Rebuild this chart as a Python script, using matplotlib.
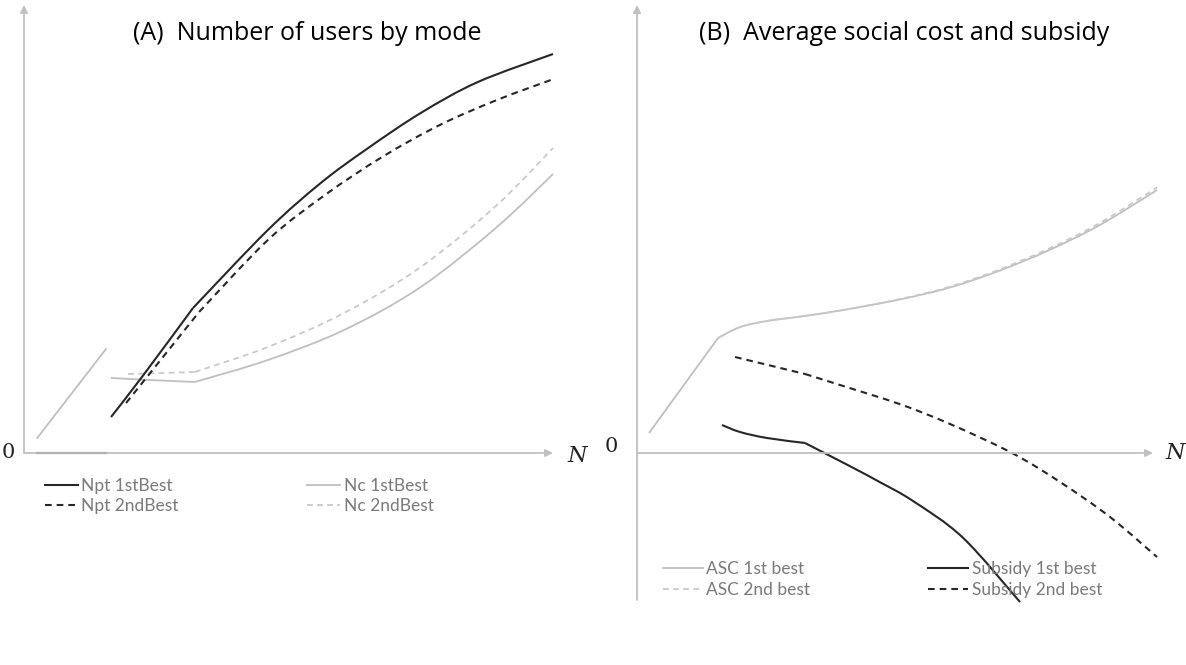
import numpy as np
import matplotlib.pyplot as plt
from matplotlib.path import Path
from matplotlib.patches import PathPatch
from matplotlib.lines import Line2D

# -----------------------------
# DADOS
# -----------------------------

# (A) numero de usuarios por modo
npt1_zero_x = [0.25, 1.55]
npt1_zero_y = [0.0, 0.0]
nc1_lin_x = [0.25, 1.55]
nc1_lin_y = [0.375, 2.6]

npt1_x = [1.645, 2.23, 3.195, 4.61, 5.61, 6.48, 7.50, 8.58, 10.0]
npt1_y = [0.9, 1.9, 3.625, 5.575, 6.75, 7.6, 8.5, 9.275, 9.975]

npt2_x = [1.93, 3.31, 4.61, 5.69, 6.77, 7.86, 8.94, 9.96]
npt2_y = [1.25, 3.525, 5.325, 6.45, 7.4, 8.2, 8.825, 9.325]

nc1_x = [1.645, 2.38, 3.23, 4.61, 6.05, 7.5, 8.94, 10.0]
nc1_y = [1.875, 1.825, 1.775, 2.325, 3.075, 4.15, 5.65, 6.975]

nc2_x = [1.97, 3.23, 4.61, 6.05, 7.5, 8.94, 10.0]
nc2_y = [1.975, 2.025, 2.65, 3.5, 4.65, 6.2, 7.625]

# (B) custo social medio e subsidio
asc1_x = [0.233, 1.57, 2.0, 2.52, 3.16, 3.93, 5.10, 6.07, 7.03, 8.0, 8.97, 10.08]
asc1_y = [0.5, 2.875, 3.15, 3.3, 3.41, 3.56, 3.84, 4.14, 4.56, 5.08, 5.7, 6.575]

asc2_x = [1.57, 2.0, 2.52, 3.16, 3.93, 5.10, 6.07, 7.03, 8.0, 8.97, 10.08]
asc2_y = [2.875, 3.15, 3.3, 3.41, 3.56, 3.85, 4.16, 4.59, 5.12, 5.75, 6.64]

sub1_x = [1.647, 1.996, 2.519, 3.256, 4.128, 4.709, 5.349, 6.318, 7.422]
sub1_y = [0.7, 0.525, 0.375, 0.25, -0.33, -0.73, -1.2, -2.12, -3.725]

sub2_x = [1.90, 3.256, 3.934, 5.097, 6.066, 7.267, 8.198, 9.167, 10.078]
sub2_y = [2.4, 1.975, 1.7, 1.22, 0.725, 0.0, -0.725, -1.6, -2.6]

# -----------------------------
# ESTILO
# -----------------------------

W, H = 1186, 665
PRETO = "#262626"
CINZA = "#bfbfbf"
CINZA_TRAC = "#c9c9c9"
EIXO = "#c0c0c0"
TXT_LEG = "#7a7a7a"
tracos = (0, (3.2, 2.4))


def caixa(x0, y0, x1, y1):
    # pixels -> fracao da figura
    return [x0 / W, 1 - y1 / H, (x1 - x0) / W, (y1 - y0) / H]


def eixos(ax, ymin, ymax):
    ax.set_xlim(0, 10)
    ax.set_ylim(ymin, ymax)
    ax.axis("off")
    seta = dict(arrowstyle="-|>", color=EIXO, lw=1.3, mutation_scale=11,
                shrinkA=0, shrinkB=0)
    ax.annotate("", xy=(10, 0), xytext=(0, 0), arrowprops=seta,
                annotation_clip=False)
    ax.annotate("", xy=(0, ymax), xytext=(0, ymin), arrowprops=seta,
                annotation_clip=False)


def suave(ax, xs, ys, quebra=None, **kw):
    # linha suavizada (estilo Excel) com quebra opcional num ponto
    pts = np.column_stack([xs, ys])
    partes = [pts] if quebra is None else [pts[:quebra + 1], pts[quebra:]]
    for p in partes:
        if len(p) < 3:
            verts, codes = list(p), [Path.MOVETO, Path.LINETO]
        else:
            q = np.vstack([p[0], p, p[-1]])
            verts, codes = [p[0]], [Path.MOVETO]
            for i in range(1, len(q) - 2):
                c1 = q[i] + (q[i + 1] - q[i - 1]) / 6
                c2 = q[i + 1] - (q[i + 2] - q[i]) / 6
                verts += [c1, c2, q[i + 1]]
                codes += [Path.CURVE4] * 3
        ax.add_patch(PathPatch(Path(verts, codes), fill=False, clip_on=False,
                               capstyle="butt", **kw))


def handle(cor, lw, ls, rotulo):
    return Line2D([], [], color=cor, lw=lw, ls=ls, label=rotulo)


fig = plt.figure(figsize=(W / 100, H / 100), dpi=100)

# -----------------------------
# (A)
# -----------------------------
axA = fig.add_axes(caixa(24, 5, 553, 453))
eixos(axA, 0, 11.2)

axA.plot(npt1_zero_x, npt1_zero_y, color=PRETO, lw=1.5, clip_on=False)
axA.plot(nc1_lin_x, nc1_lin_y, color=CINZA, lw=1.3, clip_on=False)
suave(axA, nc1_x, nc1_y, 2, color=CINZA, lw=1.3)
suave(axA, nc2_x, nc2_y, 1, color=CINZA_TRAC, lw=1.3, ls=tracos)
suave(axA, npt1_x, npt1_y, 2, color=PRETO, lw=1.5)
suave(axA, npt2_x, npt2_y, 1, color=PRETO, lw=1.5, ls=tracos)

legA = fig.legend(handles=[handle(PRETO, 1.5, "-", "Npt 1stBest"),
                           handle(PRETO, 1.5, tracos, "Npt 2ndBest"),
                           handle(CINZA, 1.3, "-", "Nc 1stBest"),
                           handle(CINZA_TRAC, 1.3, tracos, "Nc 2ndBest")],
                  ncol=2, loc="upper left",
                  bbox_to_anchor=(45 / W, 1 - 478 / H), frameon=False,
                  prop={"family": "Lato", "size": 12.5}, labelcolor=TXT_LEG,
                  handlelength=1.9, handletextpad=0.2, columnspacing=7.4,
                  labelspacing=0.22, borderaxespad=0, borderpad=0)

# -----------------------------
# (B)
# -----------------------------
axB = fig.add_axes(caixa(637, 5, 1153, 600))
eixos(axB, -3.675, 11.2)

suave(axB, asc1_x, asc1_y, 1, color=CINZA, lw=1.3)
suave(axB, asc2_x, asc2_y, None, color=CINZA_TRAC, lw=1.3, ls=tracos)
suave(axB, sub1_x, sub1_y, 3, color=PRETO, lw=1.5)
suave(axB, sub2_x, sub2_y, 1, color=PRETO, lw=1.5, ls=tracos)

legB = fig.legend(handles=[handle(CINZA, 1.3, "-", "ASC 1st best"),
                           handle(CINZA_TRAC, 1.3, tracos, "ASC 2nd best"),
                           handle(PRETO, 1.5, "-", "Subsidy 1st best"),
                           handle(PRETO, 1.5, tracos, "Subsidy 2nd best")],
                  ncol=2, loc="upper left",
                  bbox_to_anchor=(663 / W, 1 - 561 / H), frameon=False,
                  prop={"family": "Lato", "size": 12.5}, labelcolor=TXT_LEG,
                  handlelength=2.3, handletextpad=0.2, columnspacing=6.8,
                  labelspacing=0.3, borderaxespad=0, borderpad=0)

# -----------------------------
# TEXTOS
# -----------------------------
fig.text(307 / W, 1 - 34 / H, "(A)  Number of users by mode", ha="center", va="center",
         fontsize=18, family="Open Sans", color="black")
fig.text(904 / W, 1 - 34 / H, "(B)  Average social cost and subsidy", ha="center", va="center",
         fontsize=18, family="Open Sans", color="black")

for xz, yz in [(8, 453), (611, 447)]:
    fig.text(xz / W, 1 - yz / H, "0", ha="center", va="center",
             fontsize=15, family="DejaVu Serif", color="#222222")
for xn, yn in [(577, 456), (1175, 453)]:
    fig.text(xn / W, 1 - yn / H, "N", ha="center", va="center",
             fontsize=16, family="DejaVu Serif", style="italic", color="#222222")

fig.savefig("out.png", dpi=100)
